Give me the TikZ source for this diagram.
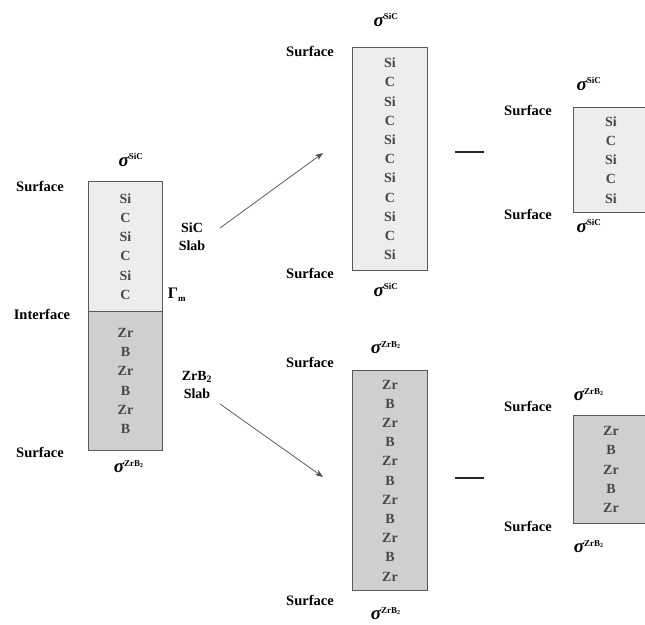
\documentclass[tikz,border=0pt]{standalone}
\usepackage{fontspec}
\setmainfont{Liberation Serif}
\usetikzlibrary{arrows.meta}
\newcommand{\supsc}[1]{\textsuperscript{\fontsize{9}{9}\selectfont\upshape\bfseries #1}}
\begin{document}
\begin{tikzpicture}[x=1pt,y=-1pt,
  lbl/.style={font=\fontsize{14.5}{16}\selectfont\bfseries, inner sep=0pt},
  sig/.style={font=\fontsize{19}{20}\selectfont\bfseries\itshape, inner sep=0pt},
  light/.style={draw=black!65, line width=0.9pt, fill=black!7, anchor=north west, inner sep=0pt, align=center,
     font=\fontsize{14}{19.2}\selectfont\bfseries, text=black!72},
  dark/.style={light, fill=black!19},
  arr/.style={-{Stealth[length=8pt,width=6pt]}, draw=black!70, line width=0.7pt},
  dashline/.style={line width=2pt, draw=black!85}
]
\clip (0,0) rectangle (645,624);
\useasboundingbox (0,0) rectangle (645,624);
% left stacked slab
\node[light, minimum width=74, minimum height=130] (ls) at (88,181) {Si\\C\\Si\\C\\Si\\C};
\node[dark, minimum width=74, minimum height=139] (lz) at (88,311) {Zr\\B\\Zr\\B\\Zr\\B};
\node[lbl] (ls1) at (40,186) {Surface};
\node[lbl] (li) at (42,314) {Interface};
\node[lbl] (ls2) at (40,452) {Surface};
\node[sig] (lsg1) at (131,160) {σ\supsc{SiC}};
\node[sig] (lsg2) at (129,467) {σ\supsc{ZrB\textsubscript{2}}};
\node[lbl, font=\fontsize{16}{18}\selectfont\bfseries] (gam) at (177,295) {Γ\textsubscript{\fontsize{9}{9}\selectfont m}};
\node[lbl, align=center, font=\fontsize{14}{18}\selectfont\bfseries] (sicslab) at (192,237) {SiC\\Slab};
\node[lbl, align=center, font=\fontsize{14}{18}\selectfont\bfseries] (zrbslab) at (197,385) {ZrB\textsubscript{2}\\Slab};
% middle slabs
\node[light, minimum width=75, minimum height=223] (ms) at (352,47) {Si\\C\\Si\\C\\Si\\C\\Si\\C\\Si\\C\\Si};
\node[dark, minimum width=75, minimum height=220] (mz) at (352,370) {Zr\\B\\Zr\\B\\Zr\\B\\Zr\\B\\Zr\\B\\Zr};
\node[lbl] (ms1) at (310,51) {Surface};
\node[lbl] (ms2) at (310,273) {Surface};
\node[lbl] (mz1) at (310,362) {Surface};
\node[lbl] (mz2) at (310,600) {Surface};
\node[sig] (msg1) at (386,20) {σ\supsc{SiC}};
\node[sig] (msg2) at (386,290) {σ\supsc{SiC}};
\node[sig] (mzg1) at (386,348) {σ\supsc{ZrB\textsubscript{2}}};
\node[sig] (mzg2) at (386,614) {σ\supsc{ZrB\textsubscript{2}}};
% right slabs
\node[light, minimum width=75, minimum height=105] (rs) at (573,107) {Si\\C\\Si\\C\\Si};
\node[dark, minimum width=75, minimum height=108] (rz) at (573,415) {Zr\\B\\Zr\\B\\Zr};
\node[lbl] (rs1) at (528,110) {Surface};
\node[lbl] (rs2) at (528,214) {Surface};
\node[lbl] (rz1) at (528,406) {Surface};
\node[lbl] (rz2) at (528,526) {Surface};
\node[sig] (rsg1) at (589,84) {σ\supsc{SiC}};
\node[sig] (rsg2) at (589,226) {σ\supsc{SiC}};
\node[sig] (rzg1) at (589,395) {σ\supsc{ZrB\textsubscript{2}}};
\node[sig] (rzg2) at (589,547) {σ\supsc{ZrB\textsubscript{2}}};
% arrows
\coordinate (a1s) at (220,228);
\coordinate (a1e) at (323,153);
\coordinate (a2s) at (220,404);
\coordinate (a2e) at (323,477);
\draw[arr] (a1s) -- (a1e);
\draw[arr] (a2s) -- (a2e);
% minus signs
\coordinate (d1a) at (455,152);
\coordinate (d1b) at (484,152);
\coordinate (d2a) at (455,478);
\coordinate (d2b) at (484,478);
\draw[dashline] (d1a) -- (d1b);
\draw[dashline] (d2a) -- (d2b);
\end{tikzpicture}
\end{document}
